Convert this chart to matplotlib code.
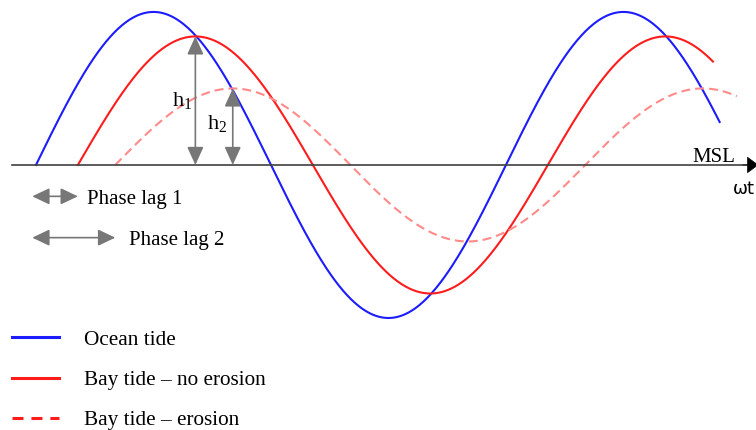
import numpy as np
import matplotlib.pyplot as plt
from matplotlib.lines import Line2D

plt.rcParams['font.family'] = 'Liberation Serif'
plt.rcParams['mathtext.fontset'] = 'custom'
plt.rcParams['mathtext.rm'] = 'Liberation Serif'
plt.rcParams['mathtext.it'] = 'Liberation Serif:italic'

# tide curves: amplitude relative to the ocean tide, phase lag behind it (rad)
names = ['Ocean tide', 'Bay tide – no erosion', 'Bay tide – erosion']
amplitudes = [1.0, 0.84, 0.50]
phase_lags = [0.0, 0.56, 1.06]
end_wt = [9.14, 9.05, 9.37]

colors = ['#1c1cff', '#ff1c1c', '#ff8a8a']
legend_colors = ['#1c1cff', '#ff1c1c', '#ff1c1c']
gray = '#777777'

fig = plt.figure(figsize=(7.56, 4.3), dpi=100)
ax = fig.add_axes([0, 0, 1, 1])
ax.set_xlim(-0.481, 9.626)
ax.set_ylim(-1.732, 1.078)
ax.axis('off')

# the three tides
for i in range(3):
    wt = np.linspace(phase_lags[i], end_wt[i], 500)
    eta = amplitudes[i] * np.sin(wt - phase_lags[i])
    if i == 2:
        ax.plot(wt, eta, color=colors[i], lw=1.5, dashes=(4.3, 2.4))
    else:
        ax.plot(wt, eta, color=colors[i], lw=1.5)

# MSL axis with arrow head
ax.plot([-0.32, 9.52], [0, 0], color='#404040', lw=1.2)
ax.annotate('', xy=(9.66, 0), xytext=(9.45, 0), annotation_clip=False,
            arrowprops=dict(arrowstyle='-|>,head_length=0.75,head_width=0.55',
                            mutation_scale=10, color='black', lw=0.5,
                            shrinkA=0, shrinkB=0))
ax.text(9.345, 0.02, 'MSL', fontsize=15, ha='right', va='baseline')
ax.text(9.32, -0.155, 'ωt', fontsize=13, family='DejaVu Sans',
        ha='left', va='center')

# amplitude arrows h1, h2 at the bay tide peaks
vstyle = '<|-|>,head_length=1.1,head_width=0.5'
h_labels = [r'$\mathrm{h}_1$', r'$\mathrm{h}_2$']
h_text_y = [0.42, 0.27]
for k, i in enumerate([1, 2]):
    xp = phase_lags[i] + np.pi / 2
    ax.annotate('', xy=(xp, amplitudes[i]), xytext=(xp, 0),
                arrowprops=dict(arrowstyle=vstyle, mutation_scale=10,
                                color=gray, lw=1.2, shrinkA=0, shrinkB=0))
    ax.annotate(h_labels[k], xy=(xp, h_text_y[k]), xytext=(-2 - 2 * k, 0),
                textcoords='offset points', fontsize=16,
                ha='right', va='center')

# phase lag arrows
hstyle = '<|-|>,head_length=1.05,head_width=0.5'
lag_y = [-0.205, -0.475]
lag_pad = [6.5, 10]
for k, i in enumerate([1, 2]):
    ax.annotate('', xy=(phase_lags[i], lag_y[k]), xytext=(-0.05, lag_y[k]),
                arrowprops=dict(arrowstyle=hstyle, mutation_scale=10,
                                color=gray, lw=1.2, shrinkA=0, shrinkB=0))
    ax.annotate('Phase lag %d' % (k + 1), xy=(phase_lags[i], lag_y[k]),
                xytext=(lag_pad[k], -2), textcoords='offset points',
                fontsize=15, ha='left', va='center')

# legend
handles = [Line2D([], [], color=legend_colors[0], lw=2.2),
           Line2D([], [], color=legend_colors[1], lw=2.2),
           Line2D([], [], color=legend_colors[2], lw=2.2, dashes=(3.6, 2.6))]
ax.legend(handles, names, loc='upper left',
          bbox_to_anchor=(12 / 756, 1 - 330 / 430), borderaxespad=0,
          borderpad=0, frameon=False, fontsize=15.3, handlelength=2.2,
          handletextpad=1.2, labelspacing=0.95)

fig.savefig('out.png', dpi=100)
